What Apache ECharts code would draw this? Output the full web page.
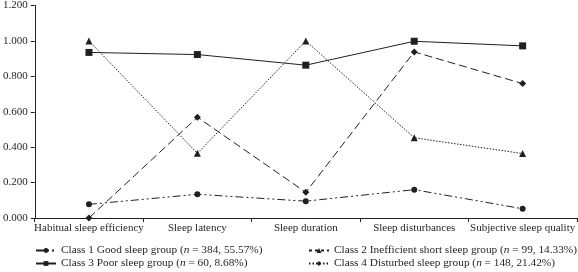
<!DOCTYPE html>
<html>
<head>
<meta charset="utf-8">
<script src="https://cdn.jsdelivr.net/npm/echarts@6/dist/echarts.min.js"></script>
<style>html,body{margin:0;padding:0;background:#fff}#c{width:578px;height:272px}</style>
</head>
<body>
<div id="c"></div>
<script>
const categories = ['Habitual sleep efficiency','Sleep latency','Sleep duration','Sleep disturbances','Subjective sleep quality'];
const yTicks = [0, 0.2, 0.4, 0.6, 0.8, 1.0, 1.2];
const class1 = [0.077, 0.134, 0.095, 0.160, 0.052];
const class2 = [1.000, 0.365, 1.000, 0.453, 0.364];
const class3 = [0.935, 0.923, 0.863, 0.998, 0.972];
const class4 = [0.000, 0.569, 0.145, 0.938, 0.759];
const names = [
  'Class 1 Good sleep group (n = 384, 55.57%)',
  'Class 2 Inefficient short sleep group (n = 99, 14.33%)',
  'Class 3 Poor sleep group (n = 60, 8.68%)',
  'Class 4 Disturbed sleep group (n = 148, 21.42%)'
];
const FONT = 'Liberation Serif';
const INK = '#231f20';
const LFS = 11.3;
const chart = echarts.init(document.getElementById('c'), null, {renderer:'canvas'});
function mk(name, data, symbol, size, dash){
  return {name, type:'line', data, symbol, symbolSize:size, showSymbol:true,
    lineStyle:{color:INK, width:1, type:dash},
    itemStyle:{color:INK, borderWidth:0}, animation:false, z: 3};
}
const legendText = {fontFamily:FONT, fontSize:LFS, color:INK,
  rich:{i:{fontFamily:FONT, fontSize:LFS, fontStyle:'italic', color:INK}, t:{fontFamily:FONT, fontSize:LFS, color:INK}}};
function fmt(n){ const p = n.split('(n'); return '{t|' + p[0] + '(}{i|n}{t|' + p[1] + '}'; }
function lg(left, top, item){
  return {left, top, orient:'horizontal', itemWidth:20, itemHeight:6, itemGap:0,
    textStyle:legendText, formatter:fmt, padding:0, data:[item]};
}
chart.setOption({
  animation:false,
  grid:{left:33, right:1, top:4, bottom:54, containLabel:false},
  xAxis:{type:'category', data:categories, boundaryGap:true,
    axisLine:{lineStyle:{color:INK, width:1}},
    axisTick:{show:true, length:4, inside:false, lineStyle:{color:INK}},
    axisLabel:{fontFamily:FONT, fontSize:11, color:INK, margin:5, interval:0}},
  yAxis:{type:'value', min:0, max:1.2, interval:0.2,
    splitLine:{show:false},
    axisLine:{show:true, lineStyle:{color:INK, width:1}},
    axisTick:{show:true, length:4, lineStyle:{color:INK}},
    axisLabel:{fontFamily:FONT, fontSize:11, color:INK, margin:7,
      formatter:v=>v.toFixed(3)}},
  legend:[
    lg(35, 245, {name:names[0]}),
    lg(35, 258, {name:names[2]}),
    lg(308, 245, {name:names[1], lineStyle:{type:[3,3]}}),
    lg(308, 258, {name:names[3], lineStyle:{type:[1.5,2]}})
  ],
  series:[
    mk(names[0], class1, 'circle', 6, [8,3,2,3,2,3]),
    mk(names[1], class2, 'triangle', 7, [1.5,1.5]),
    mk(names[2], class3, 'rect', 7, 'solid'),
    mk(names[3], class4, 'diamond', 7, [8,4])
  ]
});
</script>
</body>
</html>
